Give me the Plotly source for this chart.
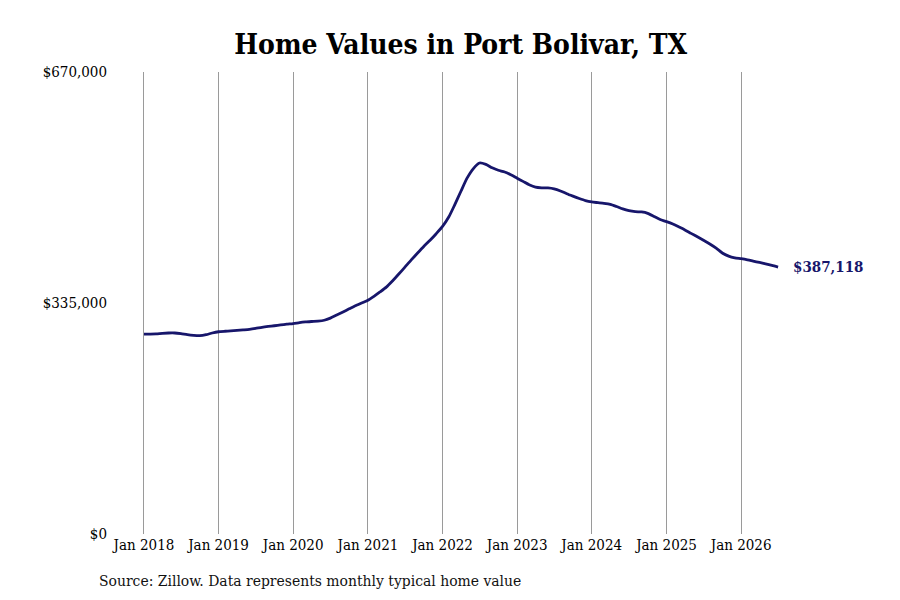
import plotly.graph_objects as go
import pandas as pd

# monthly typical home value, Jan 2018 - Jul 2026
months = pd.date_range("2018-01-01", "2026-07-01", freq="MS")
values = [
    290000, 290000, 290200, 291000, 291500, 291500, 290500, 289000, 288000, 287600, 289000, 291500,  # 2018
    293300, 294000, 294500, 295200, 296000, 296900, 298200, 299800, 301000, 302000, 303200, 304300,  # 2019
    305200, 306500, 307500, 308200, 308800, 310000, 313000, 317500, 322000, 326500, 331000, 335000,  # 2020
    339000, 345000, 351000, 358000, 367000, 377000, 387000, 397500, 407500, 417000, 426000, 435500,  # 2021
    446000, 460000, 477000, 497000, 516000, 530000, 538000, 536000, 531000, 527500, 525000, 521000,  # 2022
    516000, 511000, 506500, 503000, 502000, 501800, 500500, 497500, 493500, 490000, 486500, 483500,  # 2023
    481500, 480500, 479500, 478000, 475000, 471500, 469000, 467500, 467000, 465000, 460500, 456000,  # 2024
    453000, 449500, 445500, 441000, 436000, 431000, 426000, 420500, 414500, 407500, 403000, 400500,  # 2025
    399200, 397600, 395800, 393800, 391700, 389500, 387118,                                          # 2026
]
y_ticks = [0, 335000, 670000]
y_labels = ["$0", "$335,000", "$670,000"]
x_ticks = pd.date_range("2018-01-01", "2026-01-01", freq="YS")

title_text = "Home Values in Port Bolivar, TX"
source_text = "Source: Zillow. Data represents monthly typical home value"

serif = "DejaVu Serif Condensed, DejaVu Serif, serif"
navy = "#17166b"

fig = go.Figure()
fig.add_trace(go.Scatter(
    x=months,
    y=values,
    mode="lines",
    line=dict(color=navy, width=2.8, shape="spline", smoothing=0.6),
    hoverinfo="x+y",
    showlegend=False,
))

# label at the last point
fig.add_annotation(
    x=months[-1], y=values[-1],
    text="<b>${:,.0f}</b>".format(values[-1]),
    showarrow=False, xanchor="left", yanchor="middle", xshift=13,
    font=dict(family=serif, size=15, color=navy),
)

fig.add_annotation(
    xref="paper", yref="paper", x=-0.014, y=-0.1017,
    text=source_text, showarrow=False, xanchor="left", yanchor="middle",
    font=dict(family=serif, size=15.5, color="#111111"),
)

fig.update_layout(
    width=900, height=600,
    paper_bgcolor="white", plot_bgcolor="white",
    margin=dict(l=100, r=12, t=64, b=74),
    title=dict(
        text="<b>" + title_text + "</b>",
        x=0.503, xref="container", xanchor="center",
        y=0.94, yref="container", yanchor="middle",
        font=dict(family=serif, size=28, color="black"),
    ),
    font=dict(family=serif, size=15, color="black"),
    xaxis=dict(
        range=["2017-07-09", "2028-01-29"],
        tickvals=x_ticks, tickformat="%b %Y",
        showgrid=True, gridcolor="#9a9a9a", gridwidth=1,
        showline=False, zeroline=False, ticks="",
        tickfont=dict(family=serif, size=15, color="black"),
    ),
    yaxis=dict(
        range=[0, 670000],
        tickvals=y_ticks, ticktext=y_labels,
        showgrid=False, zeroline=False, showline=False, ticks="",
        tickfont=dict(family=serif, size=15, color="black"),
    ),
)

fig.write_html("out.html")
